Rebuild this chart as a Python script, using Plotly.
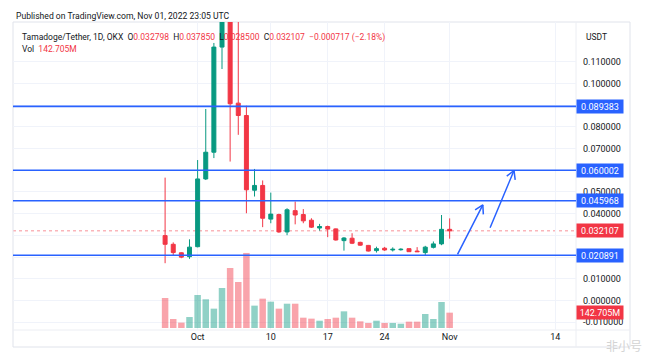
import math
import pandas as pd
import plotly.graph_objects as go

# ---------------- data ----------------
dates = pd.date_range("2022-09-27", "2022-11-01", freq="D")

open_ = [0.0299, 0.0259, 0.0220, 0.0202, 0.0248, 0.0560, 0.0683, 0.1167, 0.1350, 0.0909,
         0.0852, 0.0508, 0.0530, 0.0375, 0.0396, 0.0316, 0.0414, 0.0396, 0.0370, 0.0334,
         0.0341, 0.0330, 0.0276, 0.0287, 0.0268, 0.0254, 0.0230, 0.0241, 0.0233, 0.0234,
         0.0239, 0.0228, 0.0221, 0.0245, 0.0261, 0.032798]
high = [0.0566, 0.0268, 0.0222, 0.0282, 0.0647, 0.0882, 0.1186, 0.1380, 0.1400, 0.1330,
        0.0897, 0.0606, 0.0553, 0.0497, 0.0400, 0.0425, 0.0456, 0.0421, 0.0379, 0.0353,
        0.0345, 0.0332, 0.0292, 0.0310, 0.0271, 0.0256, 0.0248, 0.0247, 0.0245, 0.0241,
        0.0240, 0.0246, 0.0252, 0.0272, 0.0394, 0.037850]
low = [0.0172, 0.0208, 0.0195, 0.0192, 0.0245, 0.0555, 0.0656, 0.1066, 0.0640, 0.0763,
       0.0402, 0.0479, 0.0338, 0.0356, 0.0312, 0.0301, 0.0351, 0.0356, 0.0334, 0.0322,
       0.0292, 0.0276, 0.0230, 0.0260, 0.0252, 0.0226, 0.0221, 0.0229, 0.0226, 0.0230,
       0.0224, 0.0224, 0.0210, 0.0240, 0.0255, 0.028500]
close = [0.0259, 0.0221, 0.0200, 0.0246, 0.0560, 0.0683, 0.1167, 0.1350, 0.0906, 0.0852,
         0.0510, 0.0530, 0.0379, 0.0398, 0.0316, 0.0418, 0.0394, 0.0367, 0.0338, 0.0341,
         0.0329, 0.0279, 0.0288, 0.0264, 0.0255, 0.0228, 0.0239, 0.0233, 0.0236, 0.0236,
         0.0225, 0.0225, 0.0246, 0.0261, 0.032798, 0.032107]
volume_m = [279, 84, 50, 102, 307, 267, 180, 372, 558, 428,
            698, 208, 273, 245, 180, 226, 226, 96, 87, 68,
            84, 96, 155, 96, 62, 47, 68, 47, 47, 40,
            59, 59, 130, 84, 242, 142.705]

level_prices = [0.089383, 0.060002, 0.045968, 0.020891]
last_price = 0.032107
last_volume_label = "142.705M"

price_ticks = [-0.01, 0.0, 0.01, 0.02, 0.03, 0.04, 0.05, 0.06, 0.07, 0.08, 0.09, 0.10, 0.11]
# tick labels hidden behind the price-label boxes, as on the reference
price_tick_text = ["-0.010000", "0.000000", "0.010000", "", "", "0.040000", "0.050000", "",
                   "0.070000", "0.080000", "", "0.100000", "0.110000"]
x_tick_vals = ["2022-10-01", "2022-10-10", "2022-10-17", "2022-10-24", "2022-11-01", "2022-11-14"]
x_tick_text = ["Oct", "10", "17", "24", "Nov", "14"]

# arrows (tail date, tail price, tip date, tip price)
arrows = [
    ("2022-11-01 21:00", 0.02055, "2022-11-05 02:00", 0.04405),
    ("2022-11-05 21:30", 0.03286, "2022-11-08 22:00", 0.05986),
]

# ---------------- styling ----------------
GREEN = "#089981"
RED = "#f23645"
BLUE = "#2962ff"
TXT = "#131722"
GRID = "#f0f3fa"
FONT = "Roboto"

W, H = 649, 359
L, R, T, B = 13, 576, 22, 330
x_range = [pd.Timestamp("2022-09-08 07:00"), pd.Timestamp("2022-11-16 13:00")]
y_range = [-0.01355, 0.12825]
v_range = [-18.6, 2846]


def px(xp, yp):
    return (xp - L) / (R - L), (B - yp) / (B - T)


fig = go.Figure()

vol_colors = ["rgba(8,153,129,0.45)" if c >= o else "rgba(242,54,69,0.45)" for o, c in zip(open_, close)]
fig.add_trace(go.Bar(x=dates, y=volume_m, marker=dict(color=vol_colors, line=dict(width=0)),
                     width=0.8 * 86400000, yaxis="y2", hoverinfo="skip"))

fig.add_trace(go.Candlestick(
    x=dates, open=open_, high=high, low=low, close=close,
    increasing=dict(line=dict(color=GREEN, width=1), fillcolor=GREEN),
    decreasing=dict(line=dict(color=RED, width=1), fillcolor=RED),
    whiskerwidth=0,
))

shapes = []
for p in level_prices:
    shapes.append(dict(type="line", xref="paper", x0=0, x1=1, yref="y", y0=p, y1=p,
                       line=dict(color=BLUE, width=1.6), layer="above"))
shapes.append(dict(type="line", xref="paper", x0=0, x1=1, yref="y", y0=last_price, y1=last_price,
                   line=dict(color="rgba(242,54,69,0.55)", width=1, dash="dot"), layer="below"))
bx0, by0 = px(L, 347)
bx1, by1 = px(630, T)
shapes.append(dict(type="rect", xref="paper", yref="paper", x0=0, x1=bx1, y0=by0, y1=1,
                   line=dict(color="#e0e3eb", width=1), layer="below"))
shapes.append(dict(type="line", xref="paper", yref="paper", x0=1, x1=1, y0=by0, y1=1,
                   line=dict(color="#eceef3", width=1), layer="below"))
shapes.append(dict(type="line", xref="paper", yref="paper", x0=0, x1=bx1, y0=0, y1=0,
                   line=dict(color="#eceef3", width=1), layer="below"))

annotations = []
hx, hy = px(14, 16)
annotations.append(dict(xref="paper", yref="paper", x=hx, y=hy, xanchor="left", yanchor="middle",
                        showarrow=False, text="Published on TradingView.com, Nov 01, 2022 23:05 UTC",
                        font=dict(family=FONT, size=8.6, color=TXT)))
sp = "\u00a0 "
def red(s):
    return f'<span style="color:{RED}">{s}</span>'
legend_text = ("Tamadoge/Tether, 1D, OKX" + sp + "O" + red("0.032798") + sp + "H" + red("0.037850") +
               sp + "L" + red("0.028500") + sp + "C" + red("0.032107") + sp + red("\u22120.000717 (\u22122.18%)"))
lx, ly = px(20, 37)
annotations.append(dict(xref="paper", yref="paper", x=lx, y=ly, xanchor="left", yanchor="middle",
                        showarrow=False, text=legend_text, font=dict(family=FONT, size=8.5, color=TXT)))
vx, vy = px(20, 49)
annotations.append(dict(xref="paper", yref="paper", x=vx, y=vy, xanchor="left", yanchor="middle",
                        showarrow=False, text="Vol" + sp + red("142.705M"),
                        font=dict(family=FONT, size=8.5, color=TXT)))
ux, uy = px(584, 37)
annotations.append(dict(xref="paper", yref="paper", x=ux, y=uy, xanchor="left", yanchor="middle",
                        showarrow=False, text="USDT", font=dict(family=FONT, size=8.5, color=TXT)))

for p in level_prices:
    annotations.append(dict(xref="paper", yref="y", x=1, y=p, xanchor="left", yanchor="middle",
                            showarrow=False, text=f"{p:.6f}", bgcolor=BLUE, width=44, height=11,
                            borderpad=1, align="center",
                            font=dict(family=FONT, size=9, color="white")))
annotations.append(dict(xref="paper", yref="y", x=1, y=last_price, xanchor="left", yanchor="middle",
                        showarrow=False, text=f"{last_price:.6f}", bgcolor=RED, width=44, height=11,
                        borderpad=1, align="center", font=dict(family=FONT, size=9, color="white")))
annotations.append(dict(xref="paper", yref="y2", x=1, y=volume_m[-1], xanchor="left", yanchor="middle",
                        showarrow=False, text=last_volume_label, bgcolor=RED, width=44, height=11,
                        borderpad=1, align="center", font=dict(family=FONT, size=9, color="white")))

px_per_ms = (R - L) / (x_range[1] - x_range[0]).total_seconds() / 1000.0
px_per_price = (B - T) / (y_range[1] - y_range[0])
for (t0, p0, t1, p1) in arrows:
    annotations.append(dict(xref="x", yref="y", x=t1, y=p1, axref="x", ayref="y", ax=t0, ay=p0,
                            showarrow=True, arrowhead=0, arrowwidth=1.5, arrowcolor=BLUE, text="",
                            standoff=0, startstandoff=0))
    dxp = (pd.Timestamp(t0) - pd.Timestamp(t1)).total_seconds() * 1000.0 * px_per_ms
    dyp = -(p0 - p1) * px_per_price
    n = math.hypot(dxp, dyp)
    ux_, uy_ = dxp / n, dyp / n
    for ang in (math.radians(30), math.radians(-30)):
        bxv = (ux_ * math.cos(ang) - uy_ * math.sin(ang)) * 11
        byv = (ux_ * math.sin(ang) + uy_ * math.cos(ang)) * 11
        annotations.append(dict(xref="x", yref="y", x=t1, y=p1, ax=bxv, ay=byv,
                                showarrow=True, arrowhead=0, arrowwidth=1.5, arrowcolor=BLUE,
                                text="", standoff=0, startstandoff=0))

wx, wy = px(624, 345)
annotations.append(dict(xref="paper", yref="paper", x=wx, y=wy, xanchor="center", yanchor="middle",
                        showarrow=False, text="非小号",
                        font=dict(family="Noto Sans CJK SC", size=12, color="#d4d4d4")))

fig.update_layout(
    width=W, height=H,
    margin=dict(l=L, r=W - R, t=T, b=H - B, autoexpand=False),
    paper_bgcolor="white", plot_bgcolor="white",
    showlegend=False,
    font=dict(family=FONT, size=9, color=TXT),
    xaxis=dict(range=x_range, tickvals=x_tick_vals, ticktext=x_tick_text,
               showgrid=True, gridcolor=GRID, gridwidth=1, zeroline=False, showline=False,
               ticks="", rangeslider=dict(visible=False), tickfont=dict(size=9, color=TXT),
               fixedrange=True),
    yaxis=dict(range=y_range, side="right", tickvals=price_ticks, ticktext=price_tick_text,
               showgrid=True, gridcolor=GRID, gridwidth=1, zeroline=False, showline=False,
               ticks="", ticklabelstandoff=6, tickfont=dict(size=9, color=TXT)),
    yaxis2=dict(range=v_range, overlaying="y", side="left", showgrid=False, showticklabels=False,
                zeroline=False, showline=False),
    shapes=shapes, annotations=annotations,
)

fig.write_html("out.html", config={"displayModeBar": False},
               post_script="document.body.style.margin='0px';")
